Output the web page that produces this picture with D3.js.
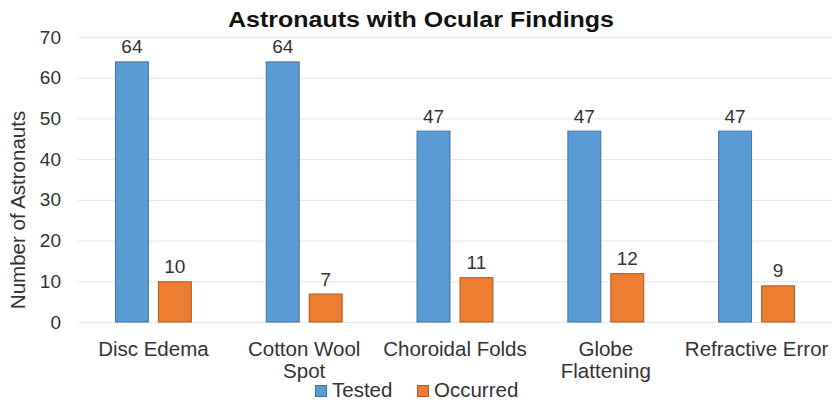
<!DOCTYPE html>
<html>
<head>
<meta charset="utf-8">
<script src="https://cdn.jsdelivr.net/npm/d3@7"></script>
<style>
  html, body { margin: 0; padding: 0; background: #fff; }
  svg { display: block; font-family: "Liberation Sans", Arial, sans-serif; }
</style>
</head>
<body>
<svg id="chart" width="834" height="402"></svg>
<script>
// Ocular findings among astronauts: number tested vs. number with the finding
const categories = [["Disc Edema"], ["Cotton Wool", "Spot"], ["Choroidal Folds"], ["Globe", "Flattening"], ["Refractive Error"]];
const seriesNames = ["Tested", "Occurred"];
const tested = [64, 64, 47, 47, 47];
const occurred = [10, 7, 11, 12, 9];
const yTicks = [0, 10, 20, 30, 40, 50, 60, 70];
const colors = ["#5b9bd5", "#ed7d31"];
const strokes = ["#41719c", "#ae5a21"];

const svg = d3.select("#chart");
const margin = { left: 78, right: 2 };
const W = 834;
const FS = 19;

const keys = categories.map(c => c.join(" "));
const x0 = d3.scaleBand().domain(keys).range([margin.left, W - margin.right]).padding(0);
const groupW = x0.bandwidth() * 0.51;
const x1 = d3.scaleBand().domain(seriesNames)
  .range([(x0.bandwidth() - groupW) / 2, (x0.bandwidth() + groupW) / 2])
  .paddingInner(0.21).paddingOuter(0);
const y = d3.scaleLinear().domain([0, 70]).range([322, 37]);

// gridlines
svg.append("g")
  .selectAll("line").data(yTicks).join("line")
  .attr("x1", margin.left).attr("x2", W - margin.right)
  .attr("y1", d => y(d) + 0.5).attr("y2", d => y(d) + 0.5)
  .attr("stroke", "#e6e6e6").attr("stroke-width", 1);

// y axis labels
const yAxis = d3.axisLeft(y).tickValues(yTicks).tickSize(0).tickPadding(0);
const ga = svg.append("g").attr("transform", "translate(61,0)").call(yAxis);
ga.select(".domain").remove();
ga.selectAll("text").attr("font-size", FS).attr("fill", "#333")
  .attr("font-family", "Liberation Sans, Arial, sans-serif");

// y axis title
svg.append("text")
  .attr("transform", "translate(25,210) rotate(-90)")
  .attr("text-anchor", "middle")
  .attr("font-size", 20.5).attr("fill", "#333")
  .text("Number of Astronauts");

// title
svg.append("text")
  .attr("x", 421).attr("y", 27)
  .attr("text-anchor", "middle")
  .attr("font-size", 22).attr("font-weight", "bold").attr("fill", "#111")
  .attr("textLength", 386).attr("lengthAdjust", "spacingAndGlyphs")
  .text("Astronauts with Ocular Findings");

const rows = keys.map((k, i) => ({ key: k, values: [tested[i], occurred[i]] }));

const groups = svg.append("g").selectAll("g").data(rows).join("g")
  .attr("transform", d => `translate(${x0(d.key)},0)`);

groups.selectAll("rect").data(d => d.values.map((v, j) => ({ s: seriesNames[j], v, j })))
  .join("rect")
  .attr("x", d => x1(d.s) + 0.5)
  .attr("y", d => y(d.v) + 0.5)
  .attr("width", x1.bandwidth() - 1)
  .attr("height", d => y(0) - y(d.v) - 0.5)
  .attr("fill", d => colors[d.j])
  .attr("stroke", d => strokes[d.j]).attr("stroke-width", 1);

groups.selectAll("text.val").data(d => d.values.map((v, j) => ({ s: seriesNames[j], v, j })))
  .join("text").attr("class", "val")
  .attr("x", d => x1(d.s) + x1.bandwidth() / 2)
  .attr("y", d => y(d.v) - 8)
  .attr("text-anchor", "middle")
  .attr("font-size", FS).attr("fill", "#333")
  .text(d => d.v);

// category labels (wrapped)
svg.append("g").selectAll("text").data(categories).join("text")
  .attr("x", (d, i) => x0(keys[i]) + x0.bandwidth() / 2)
  .attr("y", 356)
  .attr("text-anchor", "middle")
  .attr("font-size", 20.5).attr("fill", "#333")
  .each(function (d) {
    d3.select(this).selectAll("tspan").data(d).join("tspan")
      .attr("x", d3.select(this).attr("x"))
      .attr("dy", (t, k) => k === 0 ? 0 : 22)
      .text(t => t);
  });

// legend
const legendItems = [{ name: "Tested", x: 315 }, { name: "Occurred", x: 417 }];
const lg = svg.append("g").selectAll("g").data(legendItems).join("g")
  .attr("transform", d => `translate(${d.x},385)`);
lg.append("rect").attr("x", 0.5).attr("y", 0.5).attr("width", 11).attr("height", 11)
  .attr("fill", (d, i) => colors[i]).attr("stroke", (d, i) => strokes[i]);
lg.append("text").attr("x", 17).attr("y", 12)
  .attr("font-size", 20.5).attr("fill", "#333")
  .text(d => d.name);
</script>
</body>
</html>
